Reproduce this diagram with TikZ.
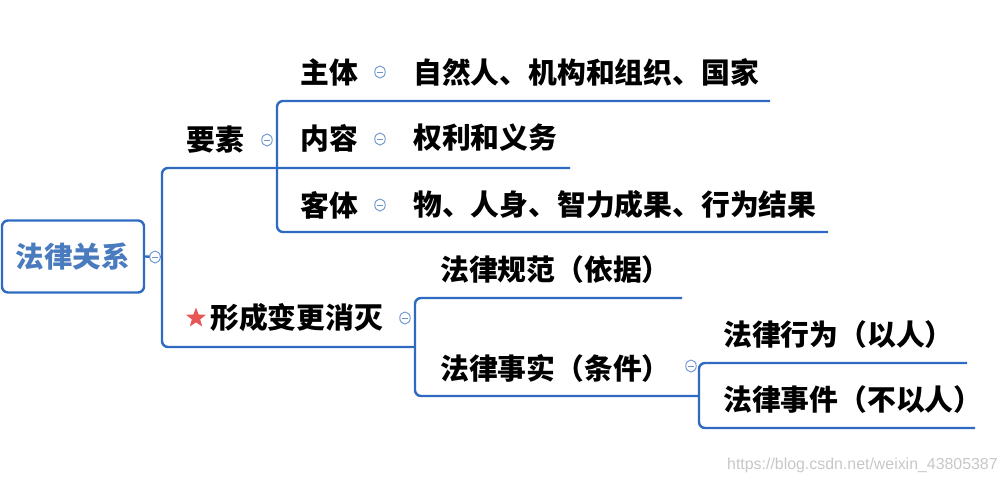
\documentclass[tikz,border=0pt]{standalone}
\usepackage{fontspec}
\setmainfont{Noto Sans CJK SC}
\newfontfamily\wmfont{Liberation Sans}
\usetikzlibrary{shapes.geometric}
\definecolor{lineblue}{HTML}{2E6AC0}
\definecolor{rootblue}{HTML}{4A7BBF}
\definecolor{circblue}{HTML}{6A93D0}
\definecolor{starred}{HTML}{E85555}
\tikzset{
 x=1pt,y=-1pt,
 txt/.style={anchor=west,inner sep=0pt,font=\fontsize{28.8}{30}\selectfont\bfseries},
 conn/.style={draw=lineblue,line width=2.4pt,rounded corners=6pt},
 fold/.style={ellipse,draw=circblue,fill=white,line width=0.9pt,minimum width=10.5pt,minimum height=12pt,inner sep=0pt,
   path picture={\draw[circblue,line width=0.9pt] ([xshift=-2.6pt]path picture bounding box.center) -- ([xshift=2.6pt]path picture bounding box.center);}},
}
\begin{document}
\begin{tikzpicture}
\useasboundingbox (0,0) rectangle (1007,483);
% root
\node[draw=lineblue,line width=2.4pt,rounded corners=6pt,minimum width=142pt,minimum height=72pt,inner sep=0pt,
  font=\fontsize{28.5}{30}\selectfont\bfseries,text=rootblue] (root) at (73,256.5) {法律关系};
% texts
\node[txt] (yaosu) at (186,140) {要素};
\node[txt] (zhuti) at (300,72) {主体};
\node[txt] (zhutiC) at (413,72) {自然人、机构和组织、国家};
\node[txt] (neirong) at (300,138) {内容};
\node[txt] (neirongC) at (413,138) {权利和义务};
\node[txt] (keti) at (300,205) {客体};
\node[txt] (ketiC) at (413,205) {物、人身、智力成果、行为结果};
\node[txt] (xc) at (210,318) {形成变更消灭};
\node[star,star points=5,star point ratio=2.4,fill=starred,minimum size=21pt,inner sep=0pt] (star) at (196,318) {};
\node[txt] (gf) at (440,270) {法律规范（依据）};
\node[txt] (ss) at (440,368) {法律事实（条件）};
\node[txt] (xw) at (723,335) {法律行为（以人）};
\node[txt] (sj) at (723,400) {法律事件（不以人）};
% coordinates
\coordinate (rj) at (162,257);
\coordinate (a1) at (570,168);
\coordinate (a2) at (162,168);
\coordinate (a3) at (162,347);
\coordinate (a4) at (415,347);
\coordinate (b1) at (770,101);
\coordinate (b2) at (277,101);
\coordinate (b3) at (277,232);
\coordinate (b4) at (828,232);
\coordinate (c1) at (682,298);
\coordinate (c2) at (415,298);
\coordinate (c3) at (415,396);
\coordinate (c4) at (699,396);
\coordinate (d1) at (967,363);
\coordinate (d2) at (699,363);
\coordinate (d3) at (699,428);
\coordinate (d4) at (975,428);
% connectors
\draw[conn] (root.east) -- (rj);
\draw[conn] (a1) -- (a2) -- (a3) -- (a4);
\draw[conn] (b1) -- (b2) -- (b3) -- (b4);
\draw[conn] (c1) -- (c2) -- (c3) -- (c4);
\draw[conn] (d1) -- (d2) -- (d3) -- (d4);
% folds
\node[fold] (f0) at (155,257) {};
\node[fold] (f1) at (267,140) {};
\node[fold] (f2) at (380,72) {};
\node[fold] (f3) at (380,139) {};
\node[fold] (f4) at (380,205) {};
\node[fold] (f5) at (405,318) {};
\node[fold] (f6) at (691,366) {};
% watermark
\node[anchor=west,inner sep=0pt,text=black!22,font=\wmfont\fontsize{15.9}{18}\selectfont] (wm) at (727,465) {https://blog.csdn.net/weixin\_43805387};
\end{tikzpicture}
\end{document}
